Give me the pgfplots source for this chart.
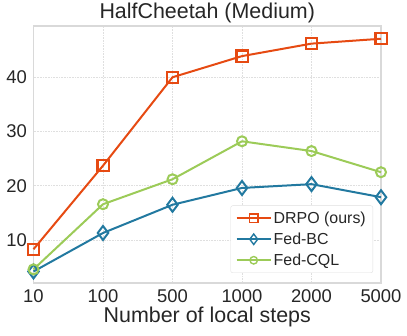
\documentclass[border=0pt]{standalone}
\usepackage{pgfplots}
\pgfplotsset{compat=1.18}
\usepackage{fontspec}
\setmainfont{Liberation Sans}
\definecolor{drpo}{HTML}{E64A12}
\definecolor{fedbc}{HTML}{2279A0}
\definecolor{fedcql}{HTML}{9CCB58}
\definecolor{txt}{HTML}{262626}

\begin{document}
\begin{tikzpicture}
\begin{axis}[
    name=ax,
    scale only axis,
    width=347.5bp, height=257bp,
    xmin=0, xmax=5, ymin=2.08, ymax=49.45,
    xtick={0,1,2,3,4,5},
    xticklabels={10,100,500,1000,2000,5000},
    ytick={10,20,30,40},
    major tick length=0pt,
    axis line style={gray!30, line width=1.1bp},
    grid=major,
    grid style={gray!25, line width=0.6bp, densely dotted},
    tick label style={font=\fontsize{18.5}{20}\selectfont, text=txt},
    xticklabel style={yshift=-3bp},
    yticklabel style={xshift=-3bp},
    /pgf/number format/assume math mode=true,
    title={HalfCheetah (Medium)},
    title style={font=\fontsize{21.5}{24}\selectfont, text=txt, yshift=-6bp},
    xlabel={Number of local steps},
    xlabel style={font=\fontsize{21.5}{24}\selectfont, text=txt, yshift=2bp},
    clip=false,
    legend style={at={(0.977,0.039)}, anchor=south east,
        font=\fontsize{16}{17}\selectfont, text=txt,
        draw=gray!25, rounded corners=2bp, fill=white,
        row sep=4bp, inner xsep=5bp, inner ysep=4bp},
    legend cell align=left,
    legend image code/.code={
        \draw[mark repeat=2, mark phase=2, #1, mark options={scale=0.75, line width=1.4bp}]
        plot coordinates {(0bp,0bp) (17bp,0bp) (34bp,0bp)};
    },
]
\addplot[drpo, line width=2bp, mark=square, mark size=5.6bp,
    mark options={fill=white, line width=2.2bp}] coordinates {
    (0,8.3) (1,23.7) (2,40.0) (3,43.9) (4,46.2) (5,47.1)
};
\addplot[fedbc, line width=2bp, mark=diamond, mark size=7bp,
    mark options={fill=white, line width=2bp}] coordinates {
    (0,4.2) (1,11.3) (2,16.5) (3,19.6) (4,20.3) (5,17.9)
};
\addplot[fedcql, line width=2bp, mark=o, mark size=5bp,
    mark options={fill=white, line width=2bp}] coordinates {
    (0,4.6) (1,16.6) (2,21.2) (3,28.2) (4,26.4) (5,22.5)
};
\legend{DRPO (ours), Fed-BC, Fed-CQL}
\end{axis}
\pgfresetboundingbox
\path ([shift={(-33.5bp,-53bp)}]ax.south west) rectangle ([shift={(26bp,26bp)}]ax.north east);
\end{tikzpicture}
\end{document}
